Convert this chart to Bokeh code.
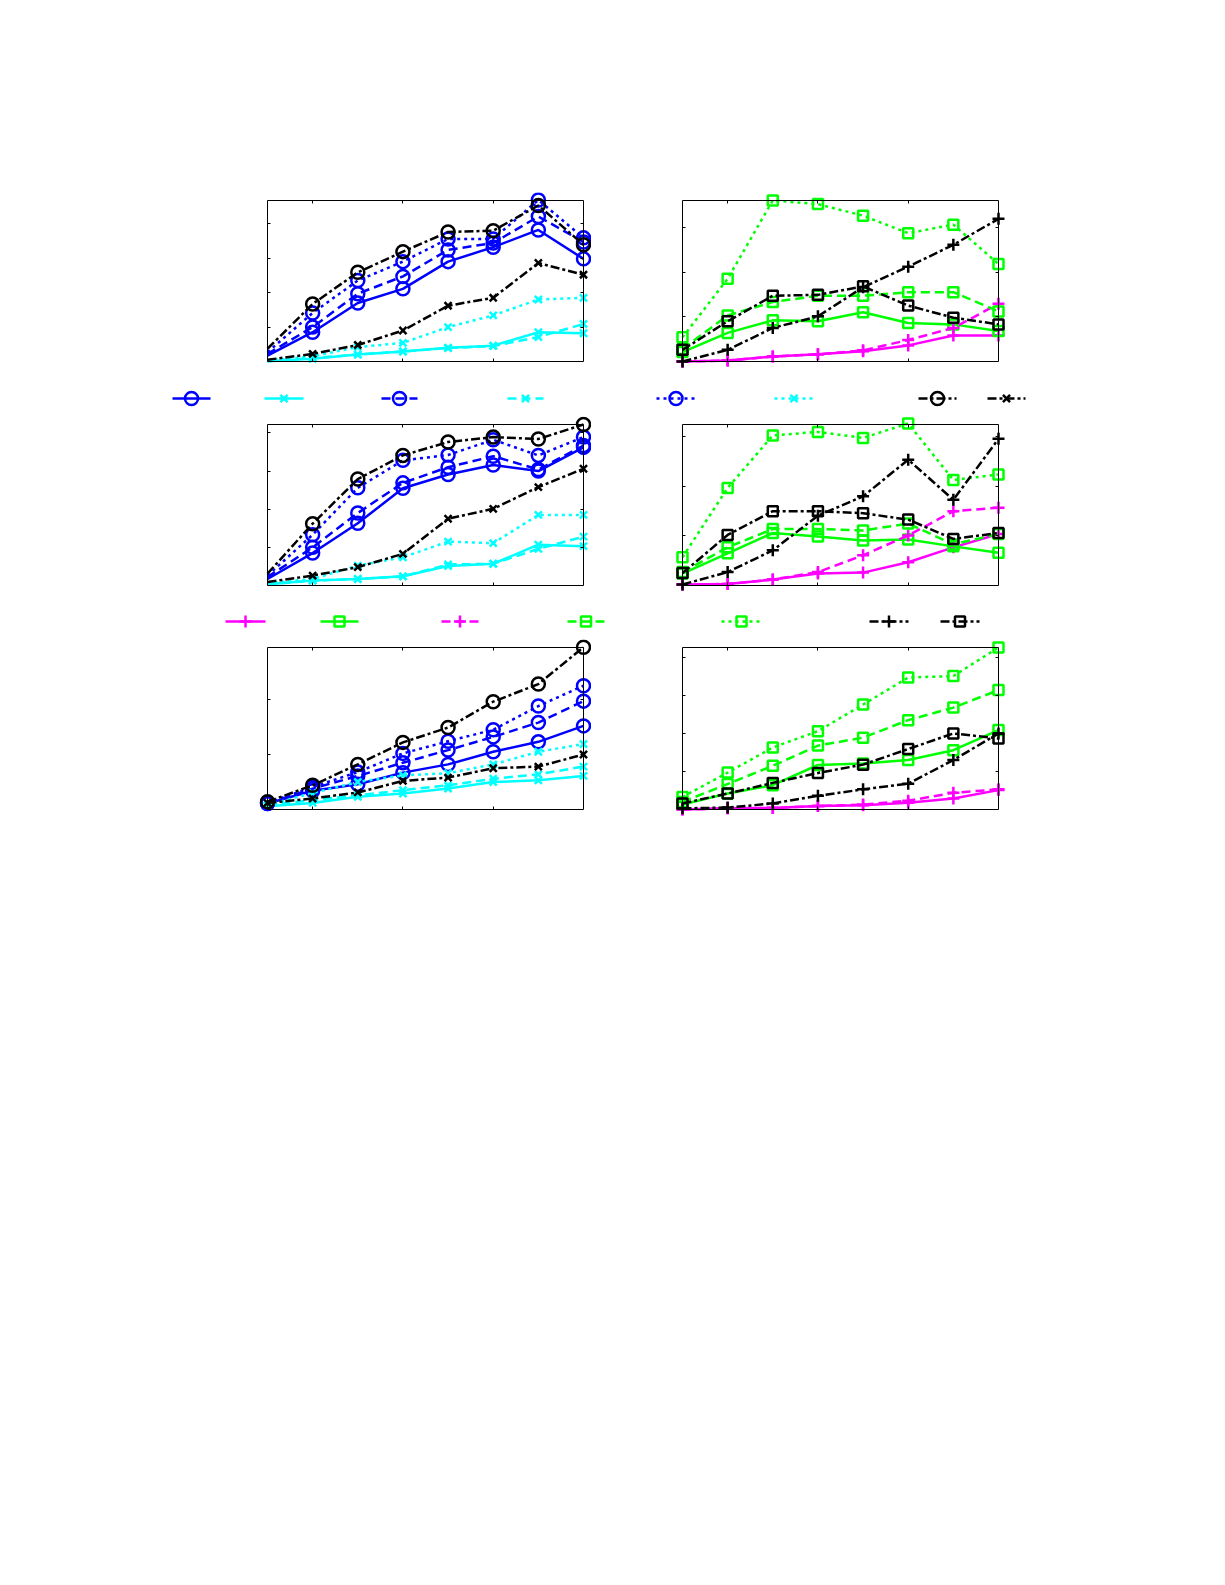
from bokeh.plotting import figure
from bokeh.models import Range1d, LinearAxis, FixedTicker, Spacer
from bokeh.layouts import column, row
from bokeh.embed import file_html
from bokeh.resources import INLINE

# x positions shared by every panel
X = [1, 2, 3, 4, 5, 6, 7, 8]
X_TICKS = [2, 4, 6]

# ---- top left (y in tick units)
TL_O_SOLID = [0.17, 0.85, 1.70, 2.11, 2.90, 3.32, 3.82, 2.98]
TL_X_SOLID = [0.01, 0.08, 0.20, 0.29, 0.40, 0.46, 0.85, 0.82]
TL_O_DASH = [0.22, 1.00, 1.97, 2.47, 3.24, 3.44, 4.21, 3.47]
TL_X_DASH = [0.01, 0.10, 0.20, 0.29, 0.39, 0.45, 0.71, 1.09]
TL_O_DOT = [0.27, 1.41, 2.35, 2.90, 3.56, 3.56, 4.69, 3.59]
TL_X_DOT = [0.03, 0.15, 0.42, 0.54, 1.00, 1.34, 1.80, 1.85]
TL_O_DASHDOT = [0.37, 1.67, 2.59, 3.19, 3.76, 3.80, 4.53, 3.39]
TL_X_DASHDOT = [0.05, 0.22, 0.48, 0.90, 1.62, 1.85, 2.86, 2.52]

# ---- top right
TR_P_SOLID = [0.00, 0.02, 0.11, 0.16, 0.23, 0.36, 0.58, 0.58]
TR_S_SOLID = [0.21, 0.64, 0.92, 0.90, 1.10, 0.86, 0.83, 0.68]
TR_P_DASH = [0.00, 0.02, 0.11, 0.16, 0.25, 0.48, 0.75, 1.29]
TR_S_DASH = [0.28, 1.03, 1.33, 1.47, 1.47, 1.55, 1.55, 1.12]
TR_S_DOT = [0.54, 1.85, 3.60, 3.52, 3.26, 2.87, 3.06, 2.18]
TR_P_DASHDOT = [0.00, 0.26, 0.75, 1.01, 1.66, 2.12, 2.61, 3.19]
TR_S_DASHDOT = [0.26, 0.90, 1.47, 1.49, 1.68, 1.25, 0.98, 0.83]

# ---- middle left
ML_O_SOLID = [0.17, 0.85, 1.63, 2.55, 2.91, 3.16, 3.00, 3.62]
ML_X_SOLID = [0.03, 0.13, 0.17, 0.24, 0.51, 0.57, 1.07, 1.03]
ML_O_DASH = [0.22, 1.00, 1.90, 2.69, 3.10, 3.39, 3.04, 3.67]
ML_X_DASH = [0.03, 0.13, 0.17, 0.24, 0.55, 0.57, 0.96, 1.28]
ML_O_DOT = [0.26, 1.33, 2.56, 3.28, 3.42, 3.82, 3.41, 3.89]
ML_X_DOT = [0.06, 0.17, 0.52, 0.74, 1.15, 1.11, 1.85, 1.85]
ML_O_DASHDOT = [0.31, 1.62, 2.79, 3.41, 3.76, 3.89, 3.84, 4.22]
ML_X_DASHDOT = [0.09, 0.26, 0.48, 0.83, 1.75, 2.01, 2.58, 3.06]

# ---- middle right
MR_P_SOLID = [0.02, 0.03, 0.12, 0.24, 0.26, 0.47, 0.77, 1.04]
MR_S_SOLID = [0.24, 0.65, 1.06, 0.99, 0.91, 0.93, 0.79, 0.66]
MR_P_DASH = [0.02, 0.03, 0.12, 0.27, 0.61, 1.01, 1.50, 1.57]
MR_S_DASH = [0.27, 0.77, 1.14, 1.14, 1.11, 1.25, 0.83, 1.04]
MR_S_DOT = [0.57, 1.97, 3.03, 3.10, 2.98, 3.27, 2.13, 2.24]
MR_P_DASHDOT = [0.02, 0.27, 0.71, 1.41, 1.80, 2.54, 1.73, 2.96]
MR_S_DASHDOT = [0.25, 1.02, 1.50, 1.50, 1.46, 1.33, 0.94, 1.06]

# ---- bottom left
BL_O_SOLID = [0.11, 0.34, 0.46, 0.67, 0.82, 1.05, 1.23, 1.52]
BL_X_SOLID = [0.06, 0.12, 0.23, 0.29, 0.38, 0.50, 0.53, 0.61]
BL_O_DASH = [0.11, 0.38, 0.61, 0.85, 1.08, 1.32, 1.58, 1.97]
BL_X_DASH = [0.08, 0.17, 0.26, 0.35, 0.44, 0.56, 0.64, 0.78]
BL_O_DOT = [0.12, 0.41, 0.68, 1.02, 1.24, 1.45, 1.88, 2.25]
BL_X_DOT = [0.08, 0.30, 0.50, 0.62, 0.66, 0.82, 1.05, 1.19]
BL_O_DASHDOT = [0.14, 0.44, 0.82, 1.22, 1.49, 1.96, 2.28, 2.95]
BL_X_DASHDOT = [0.12, 0.20, 0.31, 0.52, 0.58, 0.75, 0.78, 1.00]

# ---- bottom right
BR_P_SOLID = [0.00, 0.03, 0.04, 0.09, 0.11, 0.18, 0.29, 0.51]
BR_S_SOLID = [0.13, 0.42, 0.64, 1.17, 1.21, 1.30, 1.56, 2.09]
BR_P_DASH = [0.00, 0.03, 0.04, 0.09, 0.13, 0.23, 0.44, 0.53]
BR_S_DASH = [0.20, 0.67, 1.15, 1.68, 1.89, 2.35, 2.68, 3.14]
BR_S_DOT = [0.33, 0.97, 1.63, 2.06, 2.76, 3.47, 3.51, 4.26]
BR_P_DASHDOT = [0.03, 0.05, 0.16, 0.36, 0.53, 0.68, 1.30, 2.00]
BR_S_DASHDOT = [0.16, 0.42, 0.70, 0.96, 1.18, 1.59, 2.00, 1.87]

# axis tops and y ticks per panel
Y_MAX = {"TL": 4.675, "TR": 3.6, "ML": 4.22, "MR": 3.25, "BL": 2.945, "BR": 4.26}
Y_TICKS = {"TL": [1, 2, 3, 4], "TR": [1, 2, 3], "ML": [1, 2, 3, 4],
           "MR": [1, 2, 3], "BL": [1, 2], "BR": [1, 2, 3, 4]}

BLUE, CYAN, BLACK = "#0000ff", "#00ffff", "#000000"
MAGENTA, GREEN = "#ff00ff", "#00ff00"
DASH = {"solid": "solid", "dashed": "9 5", "dotted": "3 4", "dashdot": "9 3 3 3"}
MSIZE = {"circle": 13, "x": 10, "cross": 12, "square": 10}
LW = 2.5

LEFT_STYLE = [(BLUE, "solid", "circle"), (CYAN, "solid", "x"),
              (BLUE, "dashed", "circle"), (CYAN, "dashed", "x"),
              (BLUE, "dotted", "circle"), (CYAN, "dotted", "x"),
              (BLACK, "dashdot", "circle"), (BLACK, "dashdot", "x")]
RIGHT_STYLE = [(MAGENTA, "solid", "cross"), (GREEN, "solid", "square"),
               (MAGENTA, "dashed", "cross"), (GREEN, "dashed", "square"),
               (GREEN, "dotted", "square"), (BLACK, "dashdot", "cross"),
               (BLACK, "dashdot", "square")]

BOX_W = 316
PAD = 8


def add_series(p, xs, ys, style, first=0):
    color, dash, marker = style
    p.line(xs, ys, line_color=color, line_width=LW, line_dash=DASH[dash])
    p.scatter(xs[first:], ys[first:], marker=marker, size=MSIZE[marker],
              line_color=color, line_width=LW, fill_color=None)


def panel(key, series, styles, box_h, first=0):
    ymax = Y_MAX[key]
    dx = (X[-1] - X[0]) / BOX_W
    dy = ymax / box_h
    p = figure(width=BOX_W + 2 * PAD, height=box_h + 2 * PAD,
               x_range=Range1d(X[0] - PAD * dx, X[-1] + PAD * dx),
               y_range=Range1d(-PAD * dy, ymax + PAD * dy),
               x_axis_location=None, y_axis_location=None,
               toolbar_location=None, output_backend="svg", min_border=0)
    p.grid.visible = False
    p.outline_line_color = None
    # box axes drawn inside the padded frame, ticks pointing in
    sides = [("below", 0, X_TICKS, (X[0], X[-1])),
             ("above", ymax, X_TICKS, (X[0], X[-1])),
             ("left", X[0], Y_TICKS[key], (0, ymax)),
             ("right", X[-1], Y_TICKS[key], (0, ymax))]
    for side, loc, ticks, bounds in sides:
        ax = LinearAxis(ticker=FixedTicker(ticks=ticks, minor_ticks=[]),
                        fixed_location=loc, bounds=bounds,
                        major_tick_in=3, major_tick_out=0,
                        minor_tick_in=0, minor_tick_out=0,
                        major_label_text_font_size="0px",
                        major_label_standoff=0,
                        axis_line_color="black", axis_line_width=1,
                        major_tick_line_color="black")
        ax.major_label_overrides = {t: "" for t in ticks}
        p.add_layout(ax, side)
    for ys, st in zip(series, styles):
        add_series(p, X, ys, st, first)
    return p


# legend sample spans in page pixels (layout only)
LEG1_X = [(172, 210), (264, 303), (381, 417), (507, 543),
          (656, 695), (774, 813), (918, 956), (987, 1025)]
LEG2_X = [(225, 265), (320, 358), (441, 478), (567, 604),
          (721, 761), (869, 908), (940, 979)]


def legend_strip(spans, styles, top, height, yline):
    p = figure(width=1225, height=height,
               x_range=Range1d(0, 1225), y_range=Range1d(top + height, top),
               x_axis_location=None, y_axis_location=None,
               toolbar_location=None, output_backend="svg", min_border=0)
    p.grid.visible = False
    p.outline_line_color = None
    for (x0, x1), st in zip(spans, styles):
        color, dash, marker = st
        p.line([x0, x1], [yline, yline], line_color=color, line_width=LW,
               line_dash=DASH[dash])
        p.scatter([(x0 + x1) / 2], [yline], marker=marker, size=MSIZE[marker],
                  line_color=color, line_width=LW, fill_color=None)
    return p


# the two upper left panels show no marker at the first x
tl = panel("TL", [TL_O_SOLID, TL_X_SOLID, TL_O_DASH, TL_X_DASH, TL_O_DOT,
                  TL_X_DOT, TL_O_DASHDOT, TL_X_DASHDOT], LEFT_STYLE, 161, 1)
tr = panel("TR", [TR_P_SOLID, TR_S_SOLID, TR_P_DASH, TR_S_DASH, TR_S_DOT,
                  TR_P_DASHDOT, TR_S_DASHDOT], RIGHT_STYLE, 161)
ml = panel("ML", [ML_O_SOLID, ML_X_SOLID, ML_O_DASH, ML_X_DASH, ML_O_DOT,
                  ML_X_DOT, ML_O_DASHDOT, ML_X_DASHDOT], LEFT_STYLE, 161, 1)
mr = panel("MR", [MR_P_SOLID, MR_S_SOLID, MR_P_DASH, MR_S_DASH, MR_S_DOT,
                  MR_P_DASHDOT, MR_S_DASHDOT], RIGHT_STYLE, 161)
bl = panel("BL", [BL_O_SOLID, BL_X_SOLID, BL_O_DASH, BL_X_DASH, BL_O_DOT,
                  BL_X_DOT, BL_O_DASHDOT, BL_X_DASHDOT], LEFT_STYLE, 162)
br = panel("BR", [BR_P_SOLID, BR_S_SOLID, BR_P_DASH, BR_S_DASH, BR_S_DOT,
                  BR_P_DASHDOT, BR_S_DASHDOT], RIGHT_STYLE, 162)

leg1 = legend_strip(LEG1_X, LEFT_STYLE, 369, 47, 398)
leg2 = legend_strip(LEG2_X, RIGHT_STYLE, 593, 46, 621)

# the page template puts the layout at the window's top left corner
layout = column(
    Spacer(height=192),
    row(Spacer(width=259), tl, Spacer(width=83), tr),
    leg1,
    row(Spacer(width=259), ml, Spacer(width=83), mr),
    leg2,
    row(Spacer(width=259), bl, Spacer(width=83), br),
)

open("out.html", "w").write(file_html(layout, INLINE))
